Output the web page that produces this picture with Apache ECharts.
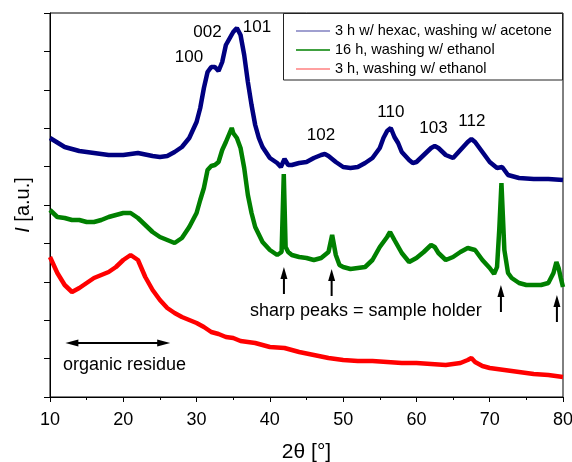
<!DOCTYPE html>
<html><head><meta charset="utf-8">
<script src="https://cdn.jsdelivr.net/npm/echarts@6/dist/echarts.min.js"></script>
<style>html,body{margin:0;padding:0;background:#fff}#c{width:572px;height:462px}</style>
</head><body><div id="c"></div>
<script>
const FONT = 'Liberation Sans, Arial, sans-serif';
const seriesNames = ['3 h w/ hexac, washing w/ acetone', '16 h, washing w/ ethanol', '3 h, washing w/ ethanol'];
const seriesColors = ['#000080', '#008000', '#ff0000'];
const legendColors = ['#8080c0', '#008000', '#ff8080'];

// 2θ [°], intensity [a.u.]
const hexacAcetone = [[10,259],[12,250],[14,246],[16,244],[18,242],[20,242],[22,244],[24,241],[25,240],[26,241],[27,245],[28,250],[29,259],[30,275],[30.5,289],[31,309],[31.5,325],[32,330],[32.5,330],[33,326],[33.5,335],[34,352],[35,365],[35.5,369],[36,362],[36.5,342],[37,315],[37.5,292],[38,272],[38.5,259],[39,250],[40,239],[41,234],[41.5,230],[42,238],[42.5,232],[43,232],[44,234],[45,235],[46,239],[47,242],[47.5,243],[48,241],[49,235],[50,230],[51,229],[52,230],[53,234],[54,239],[55,249],[55.5,259],[56,266],[56.5,269],[57,260],[57.5,254],[58,245],[59,237],[59.5,234],[60,235],[61,242],[62,249],[62.5,251],[63,249],[64,242],[65,239],[66,247],[67,255],[67.5,258],[68,255],[69,245],[70,235],[71,229],[71.7,230],[72.5,222],[74,219],[76,218],[78,218],[80,217]];
const ethanol16h = [[10,187],[11,180],[12,179],[13,177],[14,177],[15,175],[16,175],[17,177],[18,180],[19,182],[20,184],[21,184],[22,179],[23,172],[24,165],[25,160],[26,157],[27,154],[28,159],[29,170],[30,184],[30.5,197],[31,209],[31.5,227],[32,231],[32.5,232],[33,235],[33.5,247],[34,255],[34.8,269],[35,264],[35.5,259],[36,249],[36.5,229],[37,202],[37.5,184],[38,170],[39,155],[40,147],[41,142],[41.6,145],[41.9,223],[42.15,150],[42.5,145],[43,142],[44,140],[45,139],[46,137],[47,139],[48,145],[48.5,162],[49,142],[49.5,132],[50,130],[51,128],[52,129],[53,130],[54,137],[55,150],[56,160],[56.4,165],[57,157],[58,144],[59,135],[60,139],[61,145],[62,152],[62.5,150],[63,144],[64,137],[65,140],[66,145],[67,149],[68,147],[69,137],[70,129],[70.6,123],[71,130],[71.3,167],[71.6,214],[72,147],[72.5,124],[73,119],[74,114],[75,112],[76,112],[77,112],[78,114],[78.7,124],[79.1,135],[79.4,129],[79.7,119],[80,110]];
const ethanol3h = [[10,140],[11,124],[12,112],[13,105],[14,109],[15,114],[16,119],[17,122],[18,125],[19,130],[20,137],[21,142],[22,137],[23,120],[24,107],[25,97],[26,89],[27,84],[28,80],[29,77],[30,74],[31,70],[32,65],[33,63],[34,60],[35,59],[36,56],[38,54],[40,50],[42,49],[44,45],[46,42],[48,39],[50,37],[52,36],[54,36],[56,35],[58,34],[60,34],[62,33],[64,32],[66,34],[67,37],[67.5,39],[68,35],[69,31],[70,29],[72,27],[74,25],[76,23],[78,22],[80,20]];

const reflexLabels = ['100','002','101','102','110','103','112'];
const reflexPos = [[28.96,339.5],[31.49,364.5],[38.24,369.5],[46.97,262],[56.52,285],[62.32,268.5],[67.57,275.5]];
const holderPeakX = [41.92, 48.43, 71.53, 79.17];
const holderArrowTip = [130, 128, 112, 102];
const holderArrowBase = [103, 101, 85, 75];
const residueRange = [12.1, 26.4];
const residueArrowY = 54;
const residueText = 'organic residue';
const residueTextPos = [20.16, 32];
const holderText = 'sharp peaks = sample holder';
const holderTextPos = [53.1, 86];

const chart = echarts.init(document.getElementById('c'), null, {renderer: 'canvas'});
const datasets = [hexacAcetone, ethanol16h, ethanol3h];
chart.setOption({
  animation: false,
  backgroundColor: '#fff',
  textStyle: {fontFamily: FONT},
  grid: {left: 50, right: 9, top: 13, bottom: 65, show: true, borderColor: '#000', borderWidth: 1, backgroundColor: 'transparent', containLabel: false, outerBoundsMode: 'none'},
  legend: {
    orient: 'vertical', left: 291, top: 18.5, itemWidth: 34, itemHeight: 1.5, itemGap: 4,
    icon: 'rect',
    textStyle: {fontSize: 14.5, color: '#000', fontFamily: FONT, lineHeight: 14},
    data: seriesNames.map((n, i) => ({name: n, icon: 'rect', itemStyle: {color: legendColors[i]}}))
  },
  xAxis: {
    type: 'value', min: 10, max: 80, interval: 10,
    name: '2θ [°]', nameLocation: 'middle', nameGap: 45,
    nameTextStyle: {fontSize: 21, color: '#000', fontFamily: FONT},
    axisLine: {lineStyle: {color: '#000', width: 1}},
    axisTick: {show: true, inside: false, length: 5, lineStyle: {color: '#000'}},
    minorTick: {show: true, splitNumber: 2, length: 3, lineStyle: {color: '#000'}},
    splitLine: {show: false},
    axisLabel: {fontSize: 18, color: '#000', margin: 14, fontFamily: FONT}
  },
  yAxis: {
    type: 'value', min: 0, max: 384, interval: 38.4,
    name: '{i|I} [a.u.]', nameLocation: 'middle', nameGap: 17, nameRotate: 90,
    nameTextStyle: {fontSize: 20, color: '#000', fontFamily: FONT, rich: {i: {fontStyle: 'italic', fontSize: 20, fontFamily: FONT, color: '#000'}}},
    axisLine: {show: true, lineStyle: {color: '#000', width: 1}},
    axisTick: {show: true, inside: false, length: 6, lineStyle: {color: '#000'}},
    splitLine: {show: false},
    axisLabel: {show: false}
  },
  series: datasets.map((d, i) => ({
    name: seriesNames[i], type: 'line', data: d, symbol: 'none', showSymbol: false,
    color: seriesColors[i],
    lineStyle: {color: seriesColors[i], width: 4.5},
    z: 3 - i
  }))
});

function px(p) { return chart.convertToPixel({gridIndex: 0}, p); }
function head(tip, dx, dy, len, hw) {
  const bx = tip[0] - dx * len, by = tip[1] - dy * len;
  return [[tip[0], tip[1]], [bx - dy * hw, by + dx * hw], [bx + dy * hw, by - dx * hw]];
}
const g = [];
g.push({type: 'rect', shape: {x: 283.5, y: 13.5, width: 279, height: 66.5}, style: {fill: 'none', stroke: '#222', lineWidth: 1}, z: 10});
reflexLabels.forEach((t, i) => {
  const p = px(reflexPos[i]);
  g.push({type: 'text', style: {text: t, x: p[0], y: p[1], textAlign: 'center', textVerticalAlign: 'middle', font: '17px ' + FONT, fill: '#000'}, z: 10});
});
const a1 = px([residueRange[0], residueArrowY]), a2 = px([residueRange[1], residueArrowY]);
g.push({type: 'line', shape: {x1: a1[0] + 8, y1: a1[1], x2: a2[0] - 8, y2: a2[1]}, style: {stroke: '#000', lineWidth: 2}, z: 10});
g.push({type: 'polygon', shape: {points: head(a1, -1, 0, 13, 3.5)}, style: {fill: '#000'}, z: 10});
g.push({type: 'polygon', shape: {points: head(a2, 1, 0, 13, 3.5)}, style: {fill: '#000'}, z: 10});
const rt = px(residueTextPos);
g.push({type: 'text', style: {text: residueText, x: rt[0], y: rt[1], textAlign: 'center', textVerticalAlign: 'middle', font: '18px ' + FONT, fill: '#000'}, z: 10});
holderPeakX.forEach((x, i) => {
  const t = px([x, holderArrowTip[i]]), b = px([x, holderArrowBase[i]]);
  g.push({type: 'line', shape: {x1: b[0], y1: b[1], x2: t[0], y2: t[1] + 8}, style: {stroke: '#000', lineWidth: 2}, z: 10});
  g.push({type: 'polygon', shape: {points: head(t, 0, -1, 12, 3.5)}, style: {fill: '#000'}, z: 10});
});
const ht = px(holderTextPos);
g.push({type: 'text', style: {text: holderText, x: ht[0], y: ht[1], textAlign: 'center', textVerticalAlign: 'middle', font: '18px ' + FONT, fill: '#000'}, z: 10});
chart.setOption({graphic: g});
</script>
</body></html>
